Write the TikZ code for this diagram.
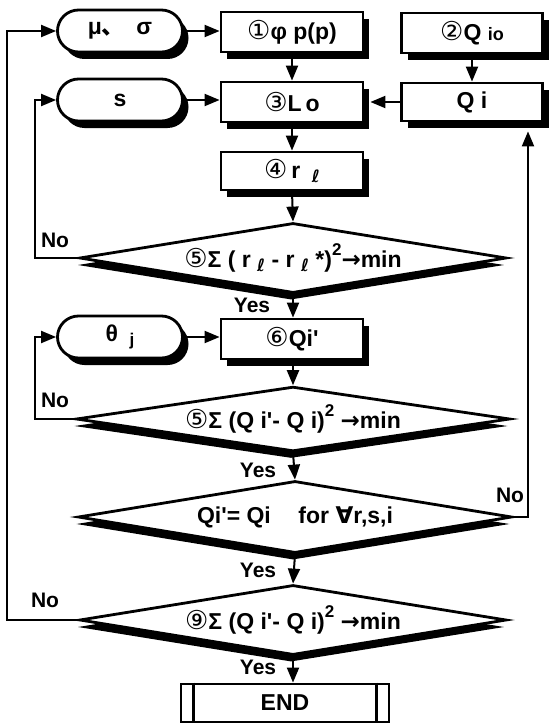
\documentclass[tikz,border=0pt]{standalone}
\usepackage{fontspec}
\setmainfont{Liberation Sans}
\newfontfamily\symf{DejaVu Sans}
\newfontfamily\cjk{Noto Sans CJK SC}
\usetikzlibrary{shapes.geometric,shapes.misc,shadows,arrows.meta}
\newcommand{\lowtxt}[1]{\raisebox{-0.35ex}{\fontsize{17}{17}\selectfont #1}}
\newcommand{\hightxt}[1]{\raisebox{1.0ex}{\fontsize{17}{17}\selectfont #1}}
\newcommand{\smtxt}[1]{{\fontsize{18}{18}\selectfont #1}}
\newcommand{\sym}[1]{{\symf #1}}
\newcommand{\circd}[1]{{\symf\mdseries\fontsize{26}{26}\selectfont #1}}
\newcommand{\apos}{\textquotesingle}
\begin{document}
\begin{tikzpicture}[x=1pt,y=-1pt,
  font=\fontsize{23}{25}\selectfont\bfseries,
  arr/.style={line width=2pt,-{Triangle[length=15pt,width=12pt]}},
  boxshadow/.style={drop shadow={shadow xshift=6pt,shadow yshift=-7pt,fill=black,opacity=1}},
  procbox/.style={draw,line width=2.8pt,fill=white,minimum width=142pt,minimum height=40pt,inner sep=0pt,boxshadow},
  term/.style={rounded rectangle,draw,line width=2.8pt,fill=white,minimum width=125pt,minimum height=42pt,inner sep=0pt,boxshadow},
  dec/.style={diamond,aspect=6,draw,line width=2.8pt,fill=white,inner sep=0pt,minimum width=427pt,minimum height=70pt,drop shadow={shadow xshift=-2pt,shadow yshift=-7pt,fill=black,opacity=1}},
  lab/.style={font=\fontsize{21}{22}\selectfont\bfseries}
]
\useasboundingbox (0,0) rectangle (551,725);
% nodes
\node[term] (mu) at (120,31) {μ{\cjk 、}\enspace σ};
\node[procbox] (b1) at (292,32) {\circd{①}φ p(p)};
\node[procbox,minimum width=141pt] (b2) at (472,33) {\circd{②}Q \smtxt{io}};
\node[term] (s) at (120,100) {s};
\node[procbox] (b3) at (292,102) {\circd{③}L\,o};
\node[procbox,minimum width=141pt,minimum height=38pt] (qi) at (472,102) {Q i};
\node[procbox,minimum height=38pt] (b4) at (292,171) {\circd{④}\,r\enspace\lowtxt{\sym{ℓ}}};
\node[dec] (d1) at (293,258) {\circd{⑤}Σ ( r \lowtxt{\sym{ℓ}} - r \lowtxt{\sym{ℓ}} *)\hightxt{2}\sym{→}min};
\node[term] (th) at (120,337) {θ\enspace\lowtxt{j}};
\node[procbox,minimum height=40pt] (b6) at (292,339) {\circd{⑥}Qi\apos};
\node[dec,minimum width=434pt,minimum height=62pt] (d2) at (293,419) {\circd{⑤}Σ (Q i\apos- Q i)\hightxt{2} \sym{→}min};
\node[dec,minimum width=434pt,minimum height=72pt] (d3) at (295,517) {Qi\apos= Qi\hspace{1.2em}for \sym{∀}r,s,i};
\node[dec] (d4) at (293,620) {\circd{⑨}Σ (Q i\apos- Q i)\hightxt{2} \sym{→}min};
\node[draw,line width=2.8pt,fill=white,minimum width=208pt,minimum height=38pt,inner sep=0pt] (end) at (285,703) {END};
\draw[line width=2.8pt] ([xshift=14pt]end.north west) -- ([xshift=14pt]end.south west);
\draw[line width=2.8pt] ([xshift=-14pt]end.north east) -- ([xshift=-14pt]end.south east);
% labels
\node[lab] (no1) at (55,240) {No};
\node[lab] (yes1) at (252,305) {Yes};
\node[lab] (no2) at (55,400) {No};
\node[lab] (yes2) at (258,470) {Yes};
\node[lab] (no3) at (510,495) {No};
\node[lab] (yes3) at (258,570) {Yes};
\node[lab] (no4) at (45,600) {No};
\node[lab] (yes4) at (258,667) {Yes};
% helper coordinates
\coordinate (LA) at (7,0);
\coordinate (LB) at (35,0);
\coordinate (RA) at (528,0);
% connectors
\draw[arr] (mu.east) -- (mu.east -| b1.west);
\draw[arr] (s.east) -- (s.east -| b3.west);
\draw[arr] (qi.west) -- ([xshift=6pt]b3.east);
\draw[arr] (b1.south) -- (b3.north);
\draw[arr] (b2.south -| qi.north) -- (qi.north);
\draw[arr] (b3.south) -- (b4.north);
\draw[arr] (b4.south) -- (d1.north);
\draw[arr] (d1.south) -- (d1.south |- b6.north);
\draw[arr] (th.east) -- (th.east -| b6.west);
\draw[arr] (b6.south) -- (b6.south -| d2.north) -- (d2.north);
\draw[arr] (d2.south) -- (d3.north);
\draw[arr] (d3.south) -- (d4.north);
\draw[arr] (d4.south) -- (d4.south |- end.north);
\draw[arr] (d1.west) -- (d1.west -| LB) -- (s.west -| LB) -- (s.west);
\draw[arr] (d2.west) -- (d2.west -| LB) -- (th.west -| LB) -- (th.west);
\draw[arr] (d4.west) -- (d4.west -| LA) -- (mu.west -| LA) -- (mu.west);
\draw[arr] (d3.east) -- (d3.east -| RA) -- ([yshift=-9pt]RA |- qi.south);
\end{tikzpicture}
\end{document}
